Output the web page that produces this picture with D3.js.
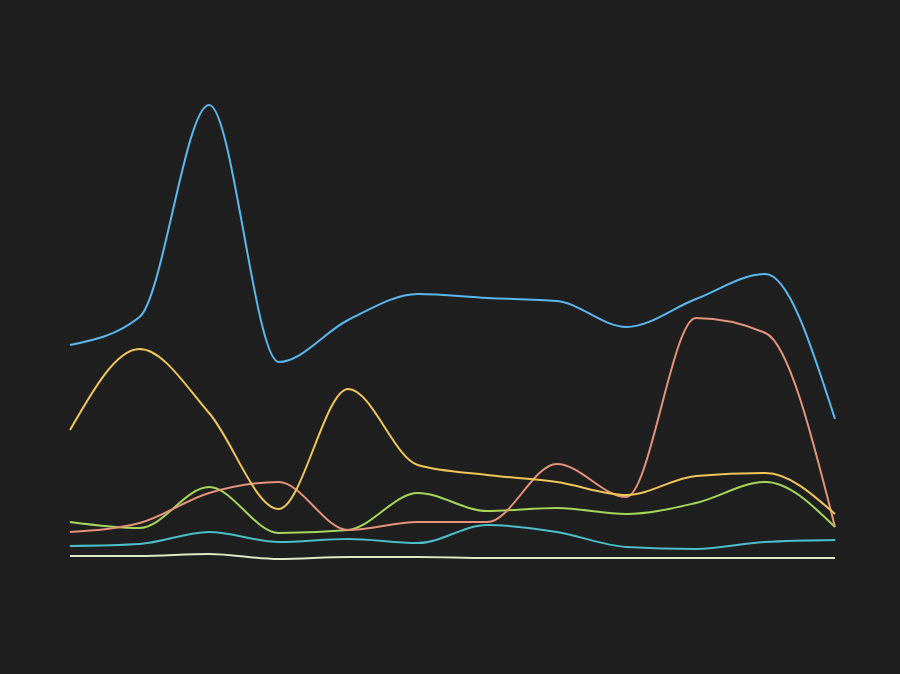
<!DOCTYPE html>
<html>
<head>
<meta charset="utf-8">
<script src="https://cdn.jsdelivr.net/npm/d3@7"></script>
<style>
  html, body { margin: 0; padding: 0; background: #1f1f1f; }
  svg { display: block; }
</style>
</head>
<body>
<svg width="900" height="674"></svg>
<script>

// twelve evenly spaced points per series
var categories = [1, 2, 3, 4, 5, 6, 7, 8, 9, 10, 11, 12];

var seriesBlue   = [219, 247, 459, 202, 244, 270, 266, 263, 237, 265, 290, 145];
var seriesYellow = [134, 215, 151, 55, 175, 99, 89, 82, 69, 88, 91, 50];
var seriesSalmon = [32, 41, 71, 82, 34, 42, 42, 100, 67, 246, 231, 37];
var seriesGreen  = [42, 36, 77, 31, 34, 71, 53, 56, 50, 61, 82, 37];
var seriesCyan   = [18, 20, 32, 22, 25, 21, 39, 32, 17, 15, 22, 24];
var seriesWhite  = [8, 8, 10, 5, 7, 7, 6, 6, 6, 6, 6, 6];

var series = [
  { name: "blue",   values: seriesBlue,   color: "#5ab8ef" },
  { name: "yellow", values: seriesYellow, color: "#f0c65a" },
  { name: "salmon", values: seriesSalmon, color: "#e5937b" },
  { name: "green",  values: seriesGreen,  color: "#a6d65a" },
  { name: "cyan",   values: seriesCyan,   color: "#4dbfcb" },
  { name: "white",  values: seriesWhite,  color: "#dfe9c6" }
];

var svg = d3.select("svg"),
    width = +svg.attr("width"),
    height = +svg.attr("height");

var x = d3.scalePoint()
    .domain(categories)
    .range([70, 835]);

var y = d3.scaleLinear()
    .domain([0, 500])
    .range([564, 64]);

var line = d3.line()
    .x(function(d, i) { return x(categories[i]); })
    .y(function(d) { return y(d); })
    .curve(d3.curveMonotoneX);

// draw back to front so the blue one sits on top
svg.append("g")
    .attr("fill", "none")
    .attr("stroke-width", 2)
  .selectAll("path")
  .data(series.slice().reverse())
  .enter().append("path")
    .attr("stroke", function(d) { return d.color; })
    .attr("d", function(d) { return line(d.values); });

</script>
</body>
</html>
